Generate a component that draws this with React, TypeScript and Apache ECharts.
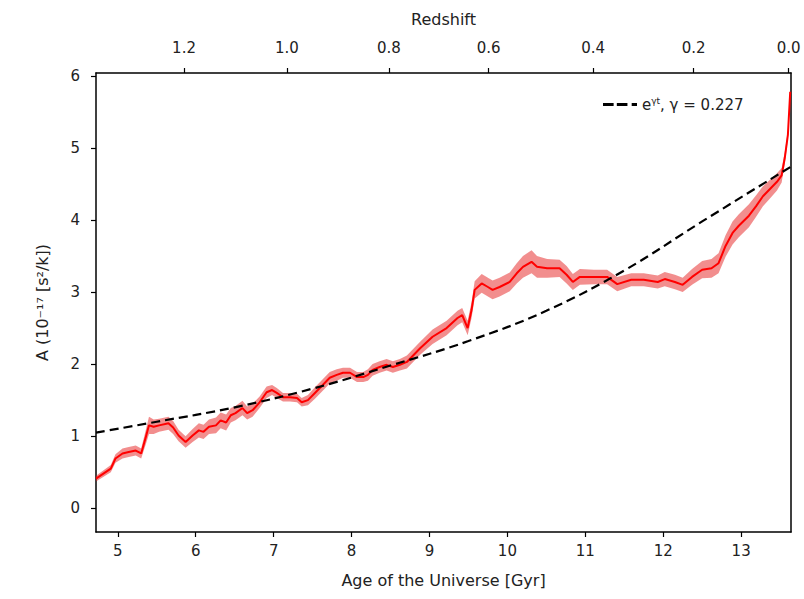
import React, { useEffect, useRef } from "react";
import * as echarts from "echarts";

// ---- data ----
const ages = [4.72, 4.91, 4.97, 5.06, 5.14, 5.23, 5.30, 5.36, 5.40, 5.46, 5.53, 5.65, 5.71, 5.78, 5.87, 5.96, 6.04, 6.10, 6.17, 6.26, 6.32, 6.39, 6.45, 6.51, 6.60, 6.66, 6.73, 6.82, 6.91, 6.98, 7.04, 7.12, 7.21, 7.30, 7.36, 7.44, 7.53, 7.63, 7.72, 7.81, 7.89, 7.98, 8.07, 8.15, 8.21, 8.27, 8.36, 8.45, 8.53, 8.62, 8.71, 8.88, 9.04, 9.22, 9.36, 9.42, 9.49, 9.54, 9.58, 9.67, 9.75, 9.81, 9.90, 10.03, 10.12, 10.20, 10.31, 10.38, 10.51, 10.67, 10.76, 10.84, 10.93, 11.11, 11.28, 11.41, 11.59, 11.75, 11.93, 12.02, 12.15, 12.25, 12.37, 12.50, 12.62, 12.71, 12.80, 12.89, 12.97, 13.10, 13.19, 13.28, 13.37, 13.46, 13.52, 13.56, 13.60, 13.63];
const amplitude = [0.41, 0.55, 0.69, 0.76, 0.78, 0.80, 0.76, 0.99, 1.15, 1.13, 1.15, 1.18, 1.12, 1.01, 0.92, 1.01, 1.08, 1.06, 1.13, 1.15, 1.22, 1.19, 1.29, 1.32, 1.39, 1.32, 1.36, 1.47, 1.61, 1.64, 1.60, 1.54, 1.54, 1.53, 1.47, 1.50, 1.60, 1.71, 1.81, 1.85, 1.88, 1.88, 1.82, 1.82, 1.85, 1.92, 1.96, 1.99, 1.96, 1.99, 2.03, 2.22, 2.38, 2.50, 2.64, 2.68, 2.50, 2.75, 3.03, 3.12, 3.07, 3.03, 3.07, 3.14, 3.26, 3.35, 3.42, 3.35, 3.33, 3.33, 3.24, 3.14, 3.21, 3.21, 3.21, 3.11, 3.17, 3.17, 3.14, 3.18, 3.14, 3.10, 3.21, 3.31, 3.33, 3.40, 3.64, 3.82, 3.92, 4.06, 4.19, 4.33, 4.43, 4.53, 4.62, 4.86, 5.18, 5.78];
const uncertainty = [0.04, 0.05, 0.06, 0.07, 0.07, 0.07, 0.07, 0.10, 0.12, 0.10, 0.09, 0.09, 0.09, 0.08, 0.08, 0.09, 0.10, 0.10, 0.10, 0.11, 0.11, 0.11, 0.10, 0.10, 0.10, 0.09, 0.09, 0.08, 0.08, 0.07, 0.07, 0.06, 0.06, 0.06, 0.06, 0.07, 0.08, 0.08, 0.08, 0.08, 0.07, 0.07, 0.07, 0.07, 0.08, 0.08, 0.08, 0.08, 0.08, 0.08, 0.09, 0.09, 0.10, 0.10, 0.10, 0.10, 0.10, 0.11, 0.12, 0.13, 0.13, 0.13, 0.13, 0.13, 0.14, 0.15, 0.16, 0.15, 0.13, 0.12, 0.12, 0.11, 0.11, 0.10, 0.10, 0.10, 0.09, 0.09, 0.09, 0.10, 0.10, 0.10, 0.11, 0.12, 0.13, 0.14, 0.15, 0.16, 0.16, 0.16, 0.15, 0.14, 0.13, 0.12, 0.10, 0.08, 0.06, 0.04];
const fitAges = [4.72, 5.5, 6.5, 7.5, 8.5, 9.5, 10.5, 11.5, 12.5, 13.64];
const fitValues = [1.05, 1.20, 1.40, 1.66, 1.98, 2.32, 2.74, 3.30, 3.98, 4.74];
const ageTicks = [5, 6, 7, 8, 9, 10, 11, 12, 13];
const yTicks = [0, 1, 2, 3, 4, 5, 6];
const redshiftLabels = ["1.2", "1.0", "0.8", "0.6", "0.4", "0.2", "0.0"];
const redshiftAges = [5.85, 7.17, 8.48, 9.76, 11.10, 12.39, 13.61];
const fitName = "fit";

const FONT = "DejaVu Sans";

export default function App() {
  const ref = useRef<HTMLDivElement>(null);
  useEffect(() => {
    if (!ref.current) return;
    const chart = echarts.init(ref.current, null, { renderer: "svg" });
    const xMin = 4.72, xMax = 13.64, yMin = -0.33, yMax = 6.04;
    const axisLine = { show: true, onZero: false, lineStyle: { color: "#000", width: 1.5 } };
    const tickStyle = { color: "#000", width: 1.2 };
    const labelStyle = { color: "#222", fontSize: 15, fontFamily: FONT };
    const nameStyle = { color: "#222", fontSize: 16, fontFamily: FONT };
    const lower = amplitude.map((v, i) => v - uncertainty[i]);
    const upper = amplitude.map((v, i) => v + uncertainty[i]);
    const option: any = {
      animation: false,
      grid: { left: 96, right: 13, top: 73, bottom: 67 },
      legend: {
        data: [{ name: fitName, icon: "path://M0,0h10v3h-10zM13,0h10v3h-10zM27,0h5v3h-5z" }],
        left: 598,
        top: 91,
        itemWidth: 34,
        itemHeight: 4,
        itemGap: 8,
        formatter: () => "{a|e}{s|γt}{a|, γ = 0.227}",
        textStyle: {
          color: "#222",
          fontFamily: FONT,
          rich: {
            a: { fontSize: 15, fontFamily: FONT, color: "#222" },
            s: { fontSize: 9, fontFamily: FONT, color: "#222", padding: [0, 0, 8, 0] },
          },
        },
      },
      xAxis: [
        {
          type: "value", min: xMin, max: xMax, position: "bottom",
          axisLine,
          axisTick: { show: true, length: 5, inside: false, customValues: ageTicks, lineStyle: tickStyle },
          axisLabel: { ...labelStyle, customValues: ageTicks, margin: 11 },
          splitLine: { show: false },
          name: "Age of the Universe [Gyr]", nameLocation: "middle", nameGap: 40, nameTextStyle: nameStyle,
        },
        {
          type: "value", min: xMin, max: xMax, position: "top",
          axisLine,
          axisTick: { show: true, length: 5, customValues: redshiftAges, lineStyle: tickStyle },
          axisLabel: {
            ...labelStyle, customValues: redshiftAges, margin: 18,
            formatter: (v: number) => {
              const i = redshiftAges.findIndex((a) => Math.abs(a - v) < 1e-6);
              return i >= 0 ? redshiftLabels[i] : "";
            },
          },
          splitLine: { show: false },
          name: "Redshift", nameLocation: "middle", nameGap: 46, nameTextStyle: nameStyle,
        },
      ],
      yAxis: [
        {
          type: "value", min: yMin, max: yMax, position: "left",
          axisLine,
          axisTick: { show: true, length: 5, customValues: yTicks, lineStyle: tickStyle },
          axisLabel: { ...labelStyle, customValues: yTicks, margin: 16 },
          splitLine: { show: false },
          name: "A (10⁻¹⁷ [s²/k])", nameLocation: "middle", nameGap: 46, nameTextStyle: nameStyle,
        },
        {
          type: "value", min: yMin, max: yMax, position: "right",
          axisLine,
          axisTick: { show: false }, axisLabel: { show: false }, splitLine: { show: false },
        },
      ],
      series: [
        {
          type: "custom",
          name: "band",
          silent: true,
          data: ages.map((a, i) => [a, lower[i], upper[i]]),
          encode: { x: 0, y: [1, 2] },
          clip: true,
          renderItem: (params: any, api: any) => {
            if (params.dataIndex !== 0) return null;
            const pts: number[][] = [];
            for (let i = 0; i < ages.length; i++) pts.push(api.coord([ages[i], upper[i]]));
            for (let i = ages.length - 1; i >= 0; i--) pts.push(api.coord([ages[i], lower[i]]));
            return { type: "polygon", shape: { points: pts }, style: { fill: "rgba(230,30,30,0.5)" } };
          },
          z: 1,
        },
        {
          type: "line",
          name: "data",
          data: ages.map((a, i) => [a, amplitude[i]]),
          showSymbol: false,
          symbol: "none",
          lineStyle: { color: "#ff0000", width: 2 },
          z: 2,
        },
        {
          type: "line",
          name: fitName,
          data: fitAges.map((a, i) => [a, fitValues[i]]),
          smooth: 0.4,
          showSymbol: false,
          symbol: "none",
          lineStyle: { color: "#000", width: 2.2, type: [9, 5] },
          itemStyle: { color: "#000" },
          z: 3,
        },
      ],
    };
    chart.setOption(option);
    return () => chart.dispose();
  }, []);
  return (
    <div
      ref={ref}
      style={{ position: "fixed", left: 0, top: 0, width: 804, height: 599, background: "#fff" }}
    />
  );
}
